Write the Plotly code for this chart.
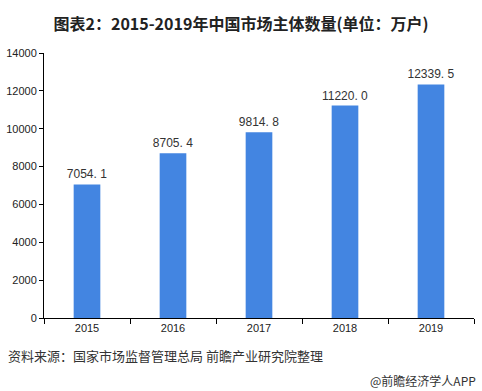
import plotly.graph_objects as go

years = ["2015", "2016", "2017", "2018", "2019"]
values = [7054.1, 8705.4, 9814.8, 11220.0, 12339.5]
labels = [f"{v:.1f}".replace(".", ". ") for v in values]
y_ticks = [0, 2000, 4000, 6000, 8000, 10000, 12000, 14000]

fig = go.Figure()
fig.add_trace(go.Bar(
    x=years, y=values, text=labels, textposition="outside",
    marker=dict(color="#4385E1", line=dict(width=0)),
    textfont=dict(family="Liberation Sans, Arial", size=12, color="#333333"),
    constraintext="none",
    width=0.31, cliponaxis=False, hoverinfo="skip",
))

fig.update_layout(
    width=482, height=391,
    margin=dict(l=44, r=8, t=53, b=73),
    paper_bgcolor="white", plot_bgcolor="white",
    showlegend=False,
    title=dict(text="<b>图表2：2015-2019年中国市场主体数量(单位：万户)</b>",
               x=0.5, xanchor="center", y=1 - 24/391, yanchor="middle",
               font=dict(family="Noto Sans CJK SC", size=16, color="#222222")),
    xaxis=dict(showline=True, linecolor="#000000", linewidth=1,
               ticks="outside", ticklen=5, tickcolor="#000000",
               tickson="boundaries", showgrid=False, automargin=False,
               tickfont=dict(family="Liberation Sans, Arial", size=11, color="#222222")),
    yaxis=dict(range=[0, 14000], tickvals=y_ticks, ticktext=[str(t) for t in y_ticks],
               showline=True, linecolor="#000000",
               linewidth=1, ticks="outside", ticklen=4, tickcolor="#000000",
               showgrid=False, zeroline=False, automargin=False,
               tickfont=dict(family="Liberation Sans, Arial", size=11, color="#222222")),
)

fig.add_annotation(text="资料来源：国家市场监督管理总局 前瞻产业研究院整理",
                   xref="paper", yref="paper", x=-38/430, y=-37/265, xanchor="left", yanchor="middle",
                   showarrow=False, font=dict(family="Noto Sans CJK SC", size=13, color="#333333"))
fig.add_annotation(text="@前瞻经济学人APP",
                   xref="paper", yref="paper", x=1.01, y=-62/265, xanchor="right", yanchor="middle",
                   showarrow=False, font=dict(family="Noto Sans CJK SC", size=12, color="#333333"))

fig.write_html("out.html", config={"displayModeBar": False},
               post_script="document.body.style.margin='0';")
